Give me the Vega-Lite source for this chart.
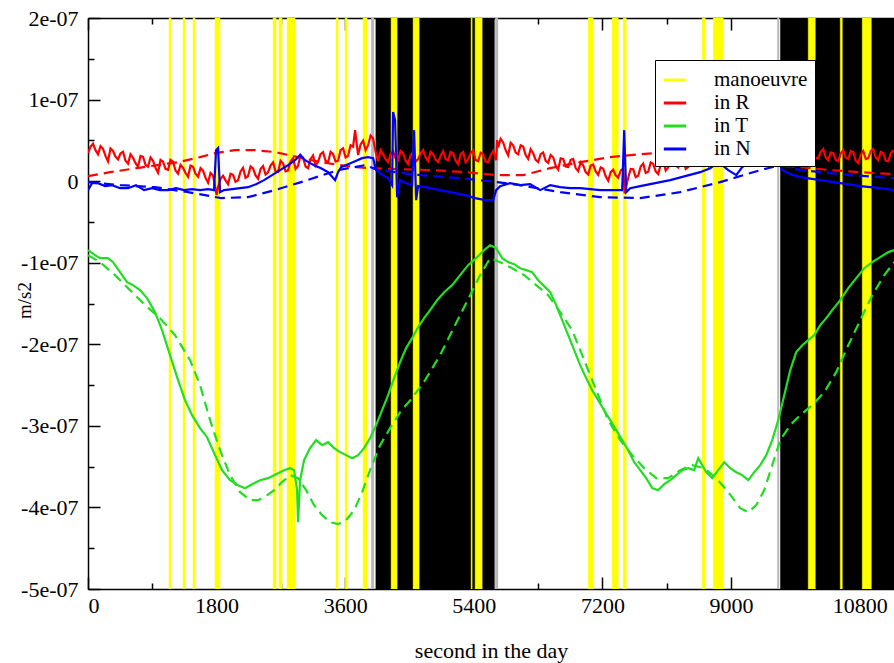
{
"$schema":"https://vega.github.io/schema/vega-lite/v6.json",
"width":806,"height":571,
"autosize":{"type":"none"},
"padding":{"left":88,"top":18,"right":0,"bottom":74},
"background":"white",
"config":{"view":{"stroke":null},"font":"Liberation Serif",
"axis":{"grid":false,"domainColor":"black","tickColor":"black","labelColor":"black","titleColor":"black","labelFont":"Liberation Serif","titleFont":"Liberation Serif","labelFontSize":22,"titleFontSize":22,"titleFontWeight":"normal","domainWidth":1.5,"tickWidth":1.5},
"legend":{"orient":"none","legendX":567,"legendY":42,"fillColor":"white","strokeColor":"black","strokeWidth":1,"padding":7,"symbolType":"stroke","symbolSize":500,"symbolStrokeWidth":3,"labelFont":"Liberation Serif","labelFontSize":21,"labelColor":"black","labelOffset":26,"rowPadding":0,"labelLimit":300}},
"datasets":{
"eclipse":[{"start":4025,"end":5691},{"start":9688,"end":11280}],
"penumbra":[{"start":3962,"end":4004},{"start":5698,"end":5740},{"start":9646,"end":9674}],
"man":[{"start":1134,"end":1162},{"start":1330,"end":1358},{"start":1470,"end":1498},{"start":1778,"end":1848},{"start":2590,"end":2632},{"start":2674,"end":2716},{"start":2786,"end":2898},{"start":3472,"end":3500},{"start":3598,"end":3626},{"start":3850,"end":3906},{"start":4242,"end":4326},{"start":4550,"end":4634},{"start":5362,"end":5376},{"start":5418,"end":5516},{"start":7000,"end":7070},{"start":7336,"end":7420},{"start":7490,"end":7532},{"start":8596,"end":8638},{"start":8750,"end":8890},{"start":10080,"end":10178},{"start":10528,"end":10556},{"start":10836,"end":10962}],
"model":[
{"c":"in R","t":0,"v":0.061e-7},{"c":"in R","t":308,"v":0.110e-7},{"c":"in R","t":588,"v":0.147e-7},{"c":"in R","t":868,"v":0.184e-7},{"c":"in R","t":1260,"v":0.233e-7},{"c":"in R","t":1568,"v":0.294e-7},{"c":"in R","t":1778,"v":0.343e-7},{"c":"in R","t":2058,"v":0.380e-7},{"c":"in R","t":2338,"v":0.380e-7},{"c":"in R","t":2618,"v":0.356e-7},{"c":"in R","t":2940,"v":0.294e-7},{"c":"in R","t":3262,"v":0.233e-7},{"c":"in R","t":3528,"v":0.196e-7},{"c":"in R","t":3738,"v":0.172e-7},{"c":"in R","t":3976,"v":0.159e-7},{"c":"in R","t":4368,"v":0.147e-7},{"c":"in R","t":4830,"v":0.135e-7},{"c":"in R","t":5278,"v":0.110e-7},{"c":"in R","t":5726,"v":0.074e-7},{"c":"in R","t":6090,"v":0.074e-7},{"c":"in R","t":6468,"v":0.159e-7},{"c":"in R","t":6888,"v":0.233e-7},{"c":"in R","t":7308,"v":0.294e-7},{"c":"in R","t":7728,"v":0.331e-7},{"c":"in R","t":8148,"v":0.356e-7},{"c":"in R","t":8568,"v":0.356e-7},{"c":"in R","t":8988,"v":0.306e-7},{"c":"in R","t":9408,"v":0.233e-7},{"c":"in R","t":9828,"v":0.184e-7},{"c":"in R","t":10388,"v":0.135e-7},{"c":"in R","t":10808,"v":0.110e-7},{"c":"in R","t":11284,"v":0.086e-7},
{"c":"in T","t":0,"v":-0.907e-7},{"c":"in T","t":168,"v":-0.993e-7},{"c":"in T","t":378,"v":-1.152e-7},{"c":"in T","t":588,"v":-1.336e-7},{"c":"in T","t":798,"v":-1.520e-7},{"c":"in T","t":1008,"v":-1.680e-7},{"c":"in T","t":1218,"v":-1.888e-7},{"c":"in T","t":1428,"v":-2.195e-7},{"c":"in T","t":1568,"v":-2.501e-7},{"c":"in T","t":1708,"v":-2.930e-7},{"c":"in T","t":1848,"v":-3.298e-7},{"c":"in T","t":1988,"v":-3.604e-7},{"c":"in T","t":2128,"v":-3.813e-7},{"c":"in T","t":2268,"v":-3.911e-7},{"c":"in T","t":2380,"v":-3.911e-7},{"c":"in T","t":2492,"v":-3.862e-7},{"c":"in T","t":2604,"v":-3.788e-7},{"c":"in T","t":2716,"v":-3.690e-7},{"c":"in T","t":2828,"v":-3.604e-7},{"c":"in T","t":2940,"v":-3.641e-7},{"c":"in T","t":3052,"v":-3.788e-7},{"c":"in T","t":3164,"v":-3.972e-7},{"c":"in T","t":3276,"v":-4.095e-7},{"c":"in T","t":3388,"v":-4.181e-7},{"c":"in T","t":3500,"v":-4.205e-7},{"c":"in T","t":3612,"v":-4.156e-7},{"c":"in T","t":3724,"v":-4.034e-7},{"c":"in T","t":3836,"v":-3.813e-7},{"c":"in T","t":3948,"v":-3.543e-7},{"c":"in T","t":4088,"v":-3.237e-7},{"c":"in T","t":4228,"v":-3.028e-7},{"c":"in T","t":4368,"v":-2.832e-7},{"c":"in T","t":4536,"v":-2.660e-7},{"c":"in T","t":4718,"v":-2.440e-7},{"c":"in T","t":4928,"v":-2.133e-7},{"c":"in T","t":5138,"v":-1.765e-7},{"c":"in T","t":5348,"v":-1.398e-7},{"c":"in T","t":5488,"v":-1.152e-7},{"c":"in T","t":5628,"v":-0.944e-7},{"c":"in T","t":5768,"v":-0.993e-7},{"c":"in T","t":5936,"v":-1.067e-7},{"c":"in T","t":6104,"v":-1.152e-7},{"c":"in T","t":6272,"v":-1.275e-7},{"c":"in T","t":6440,"v":-1.398e-7},{"c":"in T","t":6608,"v":-1.606e-7},{"c":"in T","t":6776,"v":-1.827e-7},{"c":"in T","t":6944,"v":-2.195e-7},{"c":"in T","t":7112,"v":-2.562e-7},{"c":"in T","t":7280,"v":-2.930e-7},{"c":"in T","t":7448,"v":-3.175e-7},{"c":"in T","t":7616,"v":-3.359e-7},{"c":"in T","t":7784,"v":-3.519e-7},{"c":"in T","t":7952,"v":-3.641e-7},{"c":"in T","t":8120,"v":-3.641e-7},{"c":"in T","t":8288,"v":-3.543e-7},{"c":"in T","t":8456,"v":-3.482e-7},{"c":"in T","t":8624,"v":-3.519e-7},{"c":"in T","t":8792,"v":-3.641e-7},{"c":"in T","t":8960,"v":-3.813e-7},{"c":"in T","t":9128,"v":-4.009e-7},{"c":"in T","t":9240,"v":-4.058e-7},{"c":"in T","t":9352,"v":-3.972e-7},{"c":"in T","t":9464,"v":-3.788e-7},{"c":"in T","t":9576,"v":-3.482e-7},{"c":"in T","t":9688,"v":-3.175e-7},{"c":"in T","t":9828,"v":-2.991e-7},{"c":"in T","t":9968,"v":-2.869e-7},{"c":"in T","t":10136,"v":-2.746e-7},{"c":"in T","t":10304,"v":-2.587e-7},{"c":"in T","t":10472,"v":-2.342e-7},{"c":"in T","t":10640,"v":-2.011e-7},{"c":"in T","t":10808,"v":-1.704e-7},{"c":"in T","t":10976,"v":-1.398e-7},{"c":"in T","t":11144,"v":-1.152e-7},{"c":"in T","t":11284,"v":-0.993e-7},
{"c":"in N","t":0,"v":-0.012e-7},{"c":"in N","t":448,"v":-0.049e-7},{"c":"in N","t":938,"v":-0.074e-7},{"c":"in N","t":1400,"v":-0.135e-7},{"c":"in N","t":1862,"v":-0.208e-7},{"c":"in N","t":2240,"v":-0.196e-7},{"c":"in N","t":2618,"v":-0.110e-7},{"c":"in N","t":2982,"v":-0.012e-7},{"c":"in N","t":3500,"v":0.135e-7},{"c":"in N","t":3878,"v":0.196e-7},{"c":"in N","t":4060,"v":0.135e-7},{"c":"in N","t":4648,"v":0.074e-7},{"c":"in N","t":5208,"v":0.037e-7},{"c":"in N","t":5726,"v":-0.012e-7},{"c":"in N","t":6048,"v":-0.049e-7},{"c":"in N","t":6608,"v":-0.135e-7},{"c":"in N","t":7168,"v":-0.196e-7},{"c":"in N","t":7728,"v":-0.208e-7},{"c":"in N","t":8288,"v":-0.135e-7},{"c":"in N","t":8848,"v":-0.012e-7},{"c":"in N","t":9408,"v":0.135e-7},{"c":"in N","t":9688,"v":0.196e-7},{"c":"in N","t":9968,"v":0.135e-7},{"c":"in N","t":10668,"v":0.074e-7},{"c":"in N","t":11284,"v":0.037e-7}
],
"meas":[
{"c":"in R","t":0,"v":0.343e-7},{"c":"in R","t":35,"v":0.420e-7},{"c":"in R","t":70,"v":0.459e-7},{"c":"in R","t":105,"v":0.380e-7},{"c":"in R","t":140,"v":0.330e-7},{"c":"in R","t":175,"v":0.430e-7},{"c":"in R","t":210,"v":0.396e-7},{"c":"in R","t":245,"v":0.310e-7},{"c":"in R","t":280,"v":0.242e-7},{"c":"in R","t":315,"v":0.400e-7},{"c":"in R","t":350,"v":0.370e-7},{"c":"in R","t":385,"v":0.300e-7},{"c":"in R","t":420,"v":0.265e-7},{"c":"in R","t":455,"v":0.340e-7},{"c":"in R","t":490,"v":0.360e-7},{"c":"in R","t":525,"v":0.250e-7},{"c":"in R","t":560,"v":0.213e-7},{"c":"in R","t":595,"v":0.330e-7},{"c":"in R","t":630,"v":0.287e-7},{"c":"in R","t":665,"v":0.220e-7},{"c":"in R","t":700,"v":0.177e-7},{"c":"in R","t":735,"v":0.310e-7},{"c":"in R","t":770,"v":0.299e-7},{"c":"in R","t":805,"v":0.200e-7},{"c":"in R","t":840,"v":0.177e-7},{"c":"in R","t":875,"v":0.290e-7},{"c":"in R","t":910,"v":0.250e-7},{"c":"in R","t":945,"v":0.160e-7},{"c":"in R","t":980,"v":0.103e-7},{"c":"in R","t":1015,"v":0.260e-7},{"c":"in R","t":1050,"v":0.238e-7},{"c":"in R","t":1085,"v":0.150e-7},{"c":"in R","t":1120,"v":0.140e-7},{"c":"in R","t":1155,"v":0.260e-7},{"c":"in R","t":1190,"v":0.238e-7},{"c":"in R","t":1225,"v":0.130e-7},{"c":"in R","t":1260,"v":0.091e-7},{"c":"in R","t":1295,"v":0.200e-7},{"c":"in R","t":1330,"v":0.164e-7},{"c":"in R","t":1365,"v":0.100e-7},{"c":"in R","t":1400,"v":0.054e-7},{"c":"in R","t":1435,"v":0.190e-7},{"c":"in R","t":1470,"v":0.177e-7},{"c":"in R","t":1505,"v":0.090e-7},{"c":"in R","t":1540,"v":0.054e-7},{"c":"in R","t":1575,"v":0.160e-7},{"c":"in R","t":1610,"v":0.128e-7},{"c":"in R","t":1645,"v":0.040e-7},{"c":"in R","t":1680,"v":-0.020e-7},{"c":"in R","t":1715,"v":0.100e-7},{"c":"in R","t":1750,"v":0.069e-7},{"c":"in R","t":1800,"v":-0.170e-7},{"c":"in R","t":1820,"v":-0.074e-7},{"c":"in R","t":1855,"v":0.030e-7},{"c":"in R","t":1890,"v":0.067e-7},{"c":"in R","t":1925,"v":0.010e-7},{"c":"in R","t":1960,"v":-0.037e-7},{"c":"in R","t":1995,"v":0.090e-7},{"c":"in R","t":2030,"v":0.078e-7},{"c":"in R","t":2065,"v":-0.010e-7},{"c":"in R","t":2100,"v":0.009e-7},{"c":"in R","t":2135,"v":0.120e-7},{"c":"in R","t":2170,"v":0.164e-7},{"c":"in R","t":2205,"v":0.040e-7},{"c":"in R","t":2240,"v":0.063e-7},{"c":"in R","t":2275,"v":0.180e-7},{"c":"in R","t":2310,"v":0.156e-7},{"c":"in R","t":2345,"v":0.070e-7},{"c":"in R","t":2380,"v":0.029e-7},{"c":"in R","t":2415,"v":0.150e-7},{"c":"in R","t":2450,"v":0.185e-7},{"c":"in R","t":2485,"v":0.080e-7},{"c":"in R","t":2520,"v":0.107e-7},{"c":"in R","t":2555,"v":0.190e-7},{"c":"in R","t":2590,"v":0.230e-7},{"c":"in R","t":2625,"v":0.120e-7},{"c":"in R","t":2660,"v":0.112e-7},{"c":"in R","t":2695,"v":0.250e-7},{"c":"in R","t":2730,"v":0.215e-7},{"c":"in R","t":2765,"v":0.120e-7},{"c":"in R","t":2800,"v":0.132e-7},{"c":"in R","t":2835,"v":0.240e-7},{"c":"in R","t":2870,"v":0.283e-7},{"c":"in R","t":2905,"v":0.150e-7},{"c":"in R","t":2940,"v":0.190e-7},{"c":"in R","t":2975,"v":0.320e-7},{"c":"in R","t":3010,"v":0.287e-7},{"c":"in R","t":3045,"v":0.180e-7},{"c":"in R","t":3080,"v":0.159e-7},{"c":"in R","t":3115,"v":0.270e-7},{"c":"in R","t":3150,"v":0.315e-7},{"c":"in R","t":3185,"v":0.190e-7},{"c":"in R","t":3220,"v":0.238e-7},{"c":"in R","t":3255,"v":0.330e-7},{"c":"in R","t":3290,"v":0.356e-7},{"c":"in R","t":3325,"v":0.250e-7},{"c":"in R","t":3360,"v":0.229e-7},{"c":"in R","t":3395,"v":0.360e-7},{"c":"in R","t":3430,"v":0.330e-7},{"c":"in R","t":3465,"v":0.240e-7},{"c":"in R","t":3500,"v":0.250e-7},{"c":"in R","t":3535,"v":0.380e-7},{"c":"in R","t":3570,"v":0.403e-7},{"c":"in R","t":3605,"v":0.290e-7},{"c":"in R","t":3640,"v":0.311e-7},{"c":"in R","t":3675,"v":0.440e-7},{"c":"in R","t":3710,"v":0.423e-7},{"c":"in R","t":3738,"v":0.625e-7},{"c":"in R","t":3780,"v":0.319e-7},{"c":"in R","t":3815,"v":0.450e-7},{"c":"in R","t":3850,"v":0.497e-7},{"c":"in R","t":3885,"v":0.380e-7},{"c":"in R","t":3920,"v":0.441e-7},{"c":"in R","t":3955,"v":0.560e-7},{"c":"in R","t":3990,"v":0.524e-7},{"c":"in R","t":4025,"v":0.360e-7},{"c":"in R","t":4060,"v":0.245e-7},{"c":"in R","t":4095,"v":0.380e-7},{"c":"in R","t":4130,"v":0.331e-7},{"c":"in R","t":4165,"v":0.270e-7},{"c":"in R","t":4200,"v":0.233e-7},{"c":"in R","t":4235,"v":0.330e-7},{"c":"in R","t":4270,"v":0.368e-7},{"c":"in R","t":4305,"v":0.280e-7},{"c":"in R","t":4340,"v":0.257e-7},{"c":"in R","t":4375,"v":0.370e-7},{"c":"in R","t":4410,"v":0.343e-7},{"c":"in R","t":4445,"v":0.250e-7},{"c":"in R","t":4480,"v":0.208e-7},{"c":"in R","t":4515,"v":0.320e-7},{"c":"in R","t":4550,"v":0.356e-7},{"c":"in R","t":4585,"v":0.240e-7},{"c":"in R","t":4620,"v":0.270e-7},{"c":"in R","t":4655,"v":0.340e-7},{"c":"in R","t":4690,"v":0.380e-7},{"c":"in R","t":4725,"v":0.290e-7},{"c":"in R","t":4760,"v":0.245e-7},{"c":"in R","t":4795,"v":0.360e-7},{"c":"in R","t":4830,"v":0.331e-7},{"c":"in R","t":4865,"v":0.260e-7},{"c":"in R","t":4900,"v":0.233e-7},{"c":"in R","t":4935,"v":0.310e-7},{"c":"in R","t":4970,"v":0.368e-7},{"c":"in R","t":5005,"v":0.270e-7},{"c":"in R","t":5040,"v":0.257e-7},{"c":"in R","t":5075,"v":0.360e-7},{"c":"in R","t":5110,"v":0.343e-7},{"c":"in R","t":5145,"v":0.250e-7},{"c":"in R","t":5180,"v":0.208e-7},{"c":"in R","t":5215,"v":0.330e-7},{"c":"in R","t":5250,"v":0.356e-7},{"c":"in R","t":5285,"v":0.230e-7},{"c":"in R","t":5320,"v":0.270e-7},{"c":"in R","t":5355,"v":0.340e-7},{"c":"in R","t":5390,"v":0.380e-7},{"c":"in R","t":5425,"v":0.260e-7},{"c":"in R","t":5460,"v":0.245e-7},{"c":"in R","t":5495,"v":0.350e-7},{"c":"in R","t":5530,"v":0.331e-7},{"c":"in R","t":5565,"v":0.240e-7},{"c":"in R","t":5600,"v":0.233e-7},{"c":"in R","t":5635,"v":0.320e-7},{"c":"in R","t":5670,"v":0.368e-7},{"c":"in R","t":5712,"v":0.257e-7},{"c":"in R","t":5726,"v":0.503e-7},{"c":"in R","t":5740,"v":0.413e-7},{"c":"in R","t":5775,"v":0.520e-7},{"c":"in R","t":5810,"v":0.474e-7},{"c":"in R","t":5845,"v":0.380e-7},{"c":"in R","t":5880,"v":0.316e-7},{"c":"in R","t":5915,"v":0.470e-7},{"c":"in R","t":5950,"v":0.439e-7},{"c":"in R","t":5985,"v":0.350e-7},{"c":"in R","t":6020,"v":0.329e-7},{"c":"in R","t":6055,"v":0.440e-7},{"c":"in R","t":6090,"v":0.424e-7},{"c":"in R","t":6125,"v":0.320e-7},{"c":"in R","t":6160,"v":0.273e-7},{"c":"in R","t":6195,"v":0.390e-7},{"c":"in R","t":6230,"v":0.342e-7},{"c":"in R","t":6265,"v":0.260e-7},{"c":"in R","t":6300,"v":0.233e-7},{"c":"in R","t":6335,"v":0.330e-7},{"c":"in R","t":6370,"v":0.352e-7},{"c":"in R","t":6405,"v":0.250e-7},{"c":"in R","t":6440,"v":0.224e-7},{"c":"in R","t":6475,"v":0.320e-7},{"c":"in R","t":6510,"v":0.293e-7},{"c":"in R","t":6545,"v":0.190e-7},{"c":"in R","t":6580,"v":0.141e-7},{"c":"in R","t":6615,"v":0.280e-7},{"c":"in R","t":6650,"v":0.273e-7},{"c":"in R","t":6685,"v":0.180e-7},{"c":"in R","t":6720,"v":0.174e-7},{"c":"in R","t":6755,"v":0.260e-7},{"c":"in R","t":6790,"v":0.271e-7},{"c":"in R","t":6825,"v":0.160e-7},{"c":"in R","t":6860,"v":0.123e-7},{"c":"in R","t":6895,"v":0.230e-7},{"c":"in R","t":6930,"v":0.194e-7},{"c":"in R","t":6965,"v":0.110e-7},{"c":"in R","t":7000,"v":0.082e-7},{"c":"in R","t":7035,"v":0.190e-7},{"c":"in R","t":7070,"v":0.204e-7},{"c":"in R","t":7105,"v":0.120e-7},{"c":"in R","t":7140,"v":0.078e-7},{"c":"in R","t":7175,"v":0.170e-7},{"c":"in R","t":7210,"v":0.152e-7},{"c":"in R","t":7245,"v":0.060e-7},{"c":"in R","t":7280,"v":0.005e-7},{"c":"in R","t":7315,"v":0.110e-7},{"c":"in R","t":7350,"v":0.140e-7},{"c":"in R","t":7385,"v":0.070e-7},{"c":"in R","t":7420,"v":0.042e-7},{"c":"in R","t":7455,"v":0.130e-7},{"c":"in R","t":7490,"v":0.158e-7},{"c":"in R","t":7510,"v":-0.150e-7},{"c":"in R","t":7560,"v":0.042e-7},{"c":"in R","t":7595,"v":0.150e-7},{"c":"in R","t":7630,"v":0.146e-7},{"c":"in R","t":7665,"v":0.050e-7},{"c":"in R","t":7700,"v":0.066e-7},{"c":"in R","t":7735,"v":0.180e-7},{"c":"in R","t":7770,"v":0.215e-7},{"c":"in R","t":7805,"v":0.100e-7},{"c":"in R","t":7840,"v":0.115e-7},{"c":"in R","t":7875,"v":0.230e-7},{"c":"in R","t":7910,"v":0.211e-7},{"c":"in R","t":7945,"v":0.120e-7},{"c":"in R","t":7980,"v":0.087e-7},{"c":"in R","t":8015,"v":0.200e-7},{"c":"in R","t":8050,"v":0.245e-7},{"c":"in R","t":8085,"v":0.130e-7},{"c":"in R","t":8120,"v":0.170e-7},{"c":"in R","t":8155,"v":0.280e-7},{"c":"in R","t":8190,"v":0.291e-7},{"c":"in R","t":8225,"v":0.190e-7},{"c":"in R","t":8260,"v":0.167e-7},{"c":"in R","t":8295,"v":0.250e-7},{"c":"in R","t":8330,"v":0.262e-7},{"c":"in R","t":8365,"v":0.150e-7},{"c":"in R","t":8400,"v":0.173e-7},{"c":"in R","t":8435,"v":0.290e-7},{"c":"in R","t":8470,"v":0.318e-7},{"c":"in R","t":8505,"v":0.200e-7},{"c":"in R","t":8540,"v":0.216e-7},{"c":"in R","t":8575,"v":0.330e-7},{"c":"in R","t":8610,"v":0.311e-7},{"c":"in R","t":8645,"v":0.220e-7},{"c":"in R","t":8680,"v":0.185e-7},{"c":"in R","t":8715,"v":0.300e-7},{"c":"in R","t":8750,"v":0.342e-7},{"c":"in R","t":8785,"v":0.240e-7},{"c":"in R","t":8820,"v":0.265e-7},{"c":"in R","t":8855,"v":0.360e-7},{"c":"in R","t":8890,"v":0.385e-7},{"c":"in R","t":8925,"v":0.280e-7},{"c":"in R","t":8960,"v":0.257e-7},{"c":"in R","t":8995,"v":0.370e-7},{"c":"in R","t":9030,"v":0.351e-7},{"c":"in R","t":9065,"v":0.240e-7},{"c":"in R","t":9100,"v":0.260e-7},{"c":"in R","t":9135,"v":0.380e-7},{"c":"in R","t":9170,"v":0.403e-7},{"c":"in R","t":9205,"v":0.290e-7},{"c":"in R","t":9240,"v":0.300e-7},{"c":"in R","t":9275,"v":0.410e-7},{"c":"in R","t":9310,"v":0.394e-7},{"c":"in R","t":9345,"v":0.290e-7},{"c":"in R","t":9380,"v":0.266e-7},{"c":"in R","t":9415,"v":0.380e-7},{"c":"in R","t":9450,"v":0.417e-7},{"c":"in R","t":9485,"v":0.300e-7},{"c":"in R","t":9520,"v":0.331e-7},{"c":"in R","t":9555,"v":0.420e-7},{"c":"in R","t":9590,"v":0.441e-7},{"c":"in R","t":9625,"v":0.320e-7},{"c":"in R","t":9660,"v":0.306e-7},{"c":"in R","t":9695,"v":0.410e-7},{"c":"in R","t":9730,"v":0.385e-7},{"c":"in R","t":9765,"v":0.290e-7},{"c":"in R","t":9800,"v":0.275e-7},{"c":"in R","t":9835,"v":0.370e-7},{"c":"in R","t":9870,"v":0.397e-7},{"c":"in R","t":9905,"v":0.300e-7},{"c":"in R","t":9940,"v":0.275e-7},{"c":"in R","t":9975,"v":0.380e-7},{"c":"in R","t":10010,"v":0.356e-7},{"c":"in R","t":10045,"v":0.260e-7},{"c":"in R","t":10080,"v":0.221e-7},{"c":"in R","t":10115,"v":0.330e-7},{"c":"in R","t":10150,"v":0.368e-7},{"c":"in R","t":10185,"v":0.280e-7},{"c":"in R","t":10220,"v":0.282e-7},{"c":"in R","t":10255,"v":0.360e-7},{"c":"in R","t":10290,"v":0.392e-7},{"c":"in R","t":10325,"v":0.290e-7},{"c":"in R","t":10360,"v":0.257e-7},{"c":"in R","t":10395,"v":0.350e-7},{"c":"in R","t":10430,"v":0.343e-7},{"c":"in R","t":10465,"v":0.260e-7},{"c":"in R","t":10500,"v":0.245e-7},{"c":"in R","t":10535,"v":0.340e-7},{"c":"in R","t":10570,"v":0.380e-7},{"c":"in R","t":10605,"v":0.290e-7},{"c":"in R","t":10640,"v":0.270e-7},{"c":"in R","t":10675,"v":0.370e-7},{"c":"in R","t":10710,"v":0.356e-7},{"c":"in R","t":10745,"v":0.250e-7},{"c":"in R","t":10780,"v":0.221e-7},{"c":"in R","t":10815,"v":0.330e-7},{"c":"in R","t":10850,"v":0.368e-7},{"c":"in R","t":10885,"v":0.270e-7},{"c":"in R","t":10920,"v":0.282e-7},{"c":"in R","t":10955,"v":0.370e-7},{"c":"in R","t":10990,"v":0.392e-7},{"c":"in R","t":11025,"v":0.290e-7},{"c":"in R","t":11060,"v":0.257e-7},{"c":"in R","t":11095,"v":0.360e-7},{"c":"in R","t":11130,"v":0.343e-7},{"c":"in R","t":11165,"v":0.250e-7},{"c":"in R","t":11200,"v":0.245e-7},{"c":"in R","t":11235,"v":0.340e-7},{"c":"in R","t":11270,"v":0.380e-7},
{"c":"in T","t":0,"v":-0.846e-7},{"c":"in T","t":98,"v":-0.907e-7},{"c":"in T","t":168,"v":-0.944e-7},{"c":"in T","t":280,"v":-0.944e-7},{"c":"in T","t":350,"v":-0.993e-7},{"c":"in T","t":448,"v":-1.116e-7},{"c":"in T","t":546,"v":-1.238e-7},{"c":"in T","t":630,"v":-1.275e-7},{"c":"in T","t":728,"v":-1.336e-7},{"c":"in T","t":826,"v":-1.434e-7},{"c":"in T","t":938,"v":-1.606e-7},{"c":"in T","t":1036,"v":-1.827e-7},{"c":"in T","t":1148,"v":-2.133e-7},{"c":"in T","t":1260,"v":-2.440e-7},{"c":"in T","t":1358,"v":-2.685e-7},{"c":"in T","t":1456,"v":-2.869e-7},{"c":"in T","t":1568,"v":-3.028e-7},{"c":"in T","t":1666,"v":-3.139e-7},{"c":"in T","t":1778,"v":-3.359e-7},{"c":"in T","t":1876,"v":-3.543e-7},{"c":"in T","t":1988,"v":-3.666e-7},{"c":"in T","t":2100,"v":-3.727e-7},{"c":"in T","t":2198,"v":-3.764e-7},{"c":"in T","t":2296,"v":-3.715e-7},{"c":"in T","t":2408,"v":-3.666e-7},{"c":"in T","t":2520,"v":-3.641e-7},{"c":"in T","t":2632,"v":-3.592e-7},{"c":"in T","t":2744,"v":-3.543e-7},{"c":"in T","t":2828,"v":-3.519e-7},{"c":"in T","t":2884,"v":-3.543e-7},{"c":"in T","t":2926,"v":-3.788e-7},{"c":"in T","t":2940,"v":-4.181e-7},{"c":"in T","t":2968,"v":-3.666e-7},{"c":"in T","t":3024,"v":-3.421e-7},{"c":"in T","t":3108,"v":-3.273e-7},{"c":"in T","t":3192,"v":-3.175e-7},{"c":"in T","t":3276,"v":-3.237e-7},{"c":"in T","t":3360,"v":-3.200e-7},{"c":"in T","t":3444,"v":-3.273e-7},{"c":"in T","t":3528,"v":-3.322e-7},{"c":"in T","t":3612,"v":-3.359e-7},{"c":"in T","t":3696,"v":-3.396e-7},{"c":"in T","t":3780,"v":-3.359e-7},{"c":"in T","t":3864,"v":-3.273e-7},{"c":"in T","t":3948,"v":-3.151e-7},{"c":"in T","t":4032,"v":-2.991e-7},{"c":"in T","t":4116,"v":-2.808e-7},{"c":"in T","t":4200,"v":-2.624e-7},{"c":"in T","t":4284,"v":-2.415e-7},{"c":"in T","t":4368,"v":-2.219e-7},{"c":"in T","t":4452,"v":-2.047e-7},{"c":"in T","t":4536,"v":-1.925e-7},{"c":"in T","t":4620,"v":-1.790e-7},{"c":"in T","t":4704,"v":-1.680e-7},{"c":"in T","t":4788,"v":-1.582e-7},{"c":"in T","t":4886,"v":-1.459e-7},{"c":"in T","t":4984,"v":-1.361e-7},{"c":"in T","t":5096,"v":-1.275e-7},{"c":"in T","t":5208,"v":-1.152e-7},{"c":"in T","t":5320,"v":-1.030e-7},{"c":"in T","t":5432,"v":-0.944e-7},{"c":"in T","t":5544,"v":-0.846e-7},{"c":"in T","t":5628,"v":-0.785e-7},{"c":"in T","t":5712,"v":-0.821e-7},{"c":"in T","t":5796,"v":-0.944e-7},{"c":"in T","t":5880,"v":-0.993e-7},{"c":"in T","t":5964,"v":-1.018e-7},{"c":"in T","t":6048,"v":-1.067e-7},{"c":"in T","t":6132,"v":-1.091e-7},{"c":"in T","t":6216,"v":-1.116e-7},{"c":"in T","t":6300,"v":-1.214e-7},{"c":"in T","t":6384,"v":-1.287e-7},{"c":"in T","t":6468,"v":-1.361e-7},{"c":"in T","t":6552,"v":-1.520e-7},{"c":"in T","t":6636,"v":-1.704e-7},{"c":"in T","t":6720,"v":-1.888e-7},{"c":"in T","t":6804,"v":-2.072e-7},{"c":"in T","t":6888,"v":-2.256e-7},{"c":"in T","t":6972,"v":-2.415e-7},{"c":"in T","t":7056,"v":-2.562e-7},{"c":"in T","t":7140,"v":-2.685e-7},{"c":"in T","t":7224,"v":-2.808e-7},{"c":"in T","t":7308,"v":-2.930e-7},{"c":"in T","t":7392,"v":-3.053e-7},{"c":"in T","t":7476,"v":-3.175e-7},{"c":"in T","t":7560,"v":-3.298e-7},{"c":"in T","t":7644,"v":-3.445e-7},{"c":"in T","t":7728,"v":-3.543e-7},{"c":"in T","t":7812,"v":-3.641e-7},{"c":"in T","t":7896,"v":-3.764e-7},{"c":"in T","t":7980,"v":-3.788e-7},{"c":"in T","t":8064,"v":-3.715e-7},{"c":"in T","t":8148,"v":-3.666e-7},{"c":"in T","t":8232,"v":-3.604e-7},{"c":"in T","t":8316,"v":-3.543e-7},{"c":"in T","t":8400,"v":-3.519e-7},{"c":"in T","t":8484,"v":-3.543e-7},{"c":"in T","t":8540,"v":-3.396e-7},{"c":"in T","t":8596,"v":-3.482e-7},{"c":"in T","t":8652,"v":-3.568e-7},{"c":"in T","t":8736,"v":-3.641e-7},{"c":"in T","t":8820,"v":-3.543e-7},{"c":"in T","t":8904,"v":-3.445e-7},{"c":"in T","t":8988,"v":-3.519e-7},{"c":"in T","t":9072,"v":-3.568e-7},{"c":"in T","t":9156,"v":-3.604e-7},{"c":"in T","t":9240,"v":-3.666e-7},{"c":"in T","t":9324,"v":-3.568e-7},{"c":"in T","t":9408,"v":-3.482e-7},{"c":"in T","t":9492,"v":-3.359e-7},{"c":"in T","t":9576,"v":-3.175e-7},{"c":"in T","t":9660,"v":-2.930e-7},{"c":"in T","t":9744,"v":-2.624e-7},{"c":"in T","t":9828,"v":-2.317e-7},{"c":"in T","t":9912,"v":-2.096e-7},{"c":"in T","t":9996,"v":-2.011e-7},{"c":"in T","t":10080,"v":-1.949e-7},{"c":"in T","t":10164,"v":-1.888e-7},{"c":"in T","t":10248,"v":-1.765e-7},{"c":"in T","t":10332,"v":-1.680e-7},{"c":"in T","t":10416,"v":-1.582e-7},{"c":"in T","t":10528,"v":-1.459e-7},{"c":"in T","t":10640,"v":-1.312e-7},{"c":"in T","t":10752,"v":-1.189e-7},{"c":"in T","t":10864,"v":-1.067e-7},{"c":"in T","t":10976,"v":-0.993e-7},{"c":"in T","t":11088,"v":-0.932e-7},{"c":"in T","t":11200,"v":-0.870e-7},{"c":"in T","t":11284,"v":-0.846e-7},
{"c":"in N","t":0,"v":-0.110e-7},{"c":"in N","t":56,"v":-0.025e-7},{"c":"in N","t":140,"v":-0.025e-7},{"c":"in N","t":238,"v":-0.061e-7},{"c":"in N","t":336,"v":-0.049e-7},{"c":"in N","t":448,"v":-0.086e-7},{"c":"in N","t":560,"v":-0.086e-7},{"c":"in N","t":672,"v":-0.049e-7},{"c":"in N","t":784,"v":-0.110e-7},{"c":"in N","t":896,"v":-0.086e-7},{"c":"in N","t":1008,"v":-0.110e-7},{"c":"in N","t":1120,"v":-0.110e-7},{"c":"in N","t":1232,"v":-0.086e-7},{"c":"in N","t":1344,"v":-0.110e-7},{"c":"in N","t":1456,"v":-0.098e-7},{"c":"in N","t":1568,"v":-0.110e-7},{"c":"in N","t":1680,"v":-0.098e-7},{"c":"in N","t":1764,"v":-0.110e-7},{"c":"in N","t":1792,"v":0.380e-7},{"c":"in N","t":1820,"v":0.405e-7},{"c":"in N","t":1848,"v":-0.135e-7},{"c":"in N","t":1904,"v":-0.110e-7},{"c":"in N","t":2016,"v":-0.098e-7},{"c":"in N","t":2128,"v":-0.086e-7},{"c":"in N","t":2240,"v":-0.074e-7},{"c":"in N","t":2352,"v":-0.037e-7},{"c":"in N","t":2464,"v":0.012e-7},{"c":"in N","t":2576,"v":0.074e-7},{"c":"in N","t":2688,"v":0.135e-7},{"c":"in N","t":2800,"v":0.196e-7},{"c":"in N","t":2898,"v":0.257e-7},{"c":"in N","t":2968,"v":0.319e-7},{"c":"in N","t":3038,"v":0.257e-7},{"c":"in N","t":3108,"v":0.221e-7},{"c":"in N","t":3192,"v":0.184e-7},{"c":"in N","t":3262,"v":0.159e-7},{"c":"in N","t":3360,"v":0.110e-7},{"c":"in N","t":3458,"v":0.012e-7},{"c":"in N","t":3500,"v":0.110e-7},{"c":"in N","t":3542,"v":0.172e-7},{"c":"in N","t":3640,"v":0.208e-7},{"c":"in N","t":3738,"v":0.245e-7},{"c":"in N","t":3836,"v":0.282e-7},{"c":"in N","t":3920,"v":0.294e-7},{"c":"in N","t":3990,"v":0.282e-7},{"c":"in N","t":4032,"v":0.135e-7},{"c":"in N","t":4116,"v":0.074e-7},{"c":"in N","t":4200,"v":0.037e-7},{"c":"in N","t":4256,"v":-0.049e-7},{"c":"in N","t":4270,"v":0.846e-7},{"c":"in N","t":4298,"v":0.748e-7},{"c":"in N","t":4326,"v":-0.196e-7},{"c":"in N","t":4368,"v":0.012e-7},{"c":"in N","t":4452,"v":-0.025e-7},{"c":"in N","t":4536,"v":-0.049e-7},{"c":"in N","t":4564,"v":0.625e-7},{"c":"in N","t":4592,"v":-0.233e-7},{"c":"in N","t":4620,"v":-0.061e-7},{"c":"in N","t":4718,"v":-0.074e-7},{"c":"in N","t":4858,"v":-0.098e-7},{"c":"in N","t":4998,"v":-0.123e-7},{"c":"in N","t":5138,"v":-0.147e-7},{"c":"in N","t":5278,"v":-0.172e-7},{"c":"in N","t":5418,"v":-0.208e-7},{"c":"in N","t":5558,"v":-0.233e-7},{"c":"in N","t":5670,"v":-0.233e-7},{"c":"in N","t":5712,"v":-0.110e-7},{"c":"in N","t":5768,"v":-0.061e-7},{"c":"in N","t":5908,"v":-0.025e-7},{"c":"in N","t":6048,"v":-0.049e-7},{"c":"in N","t":6188,"v":-0.037e-7},{"c":"in N","t":6328,"v":-0.110e-7},{"c":"in N","t":6468,"v":-0.049e-7},{"c":"in N","t":6608,"v":-0.074e-7},{"c":"in N","t":6748,"v":-0.086e-7},{"c":"in N","t":6888,"v":-0.086e-7},{"c":"in N","t":7028,"v":-0.098e-7},{"c":"in N","t":7168,"v":-0.110e-7},{"c":"in N","t":7308,"v":-0.110e-7},{"c":"in N","t":7476,"v":-0.110e-7},{"c":"in N","t":7504,"v":0.625e-7},{"c":"in N","t":7532,"v":-0.135e-7},{"c":"in N","t":7588,"v":-0.086e-7},{"c":"in N","t":7728,"v":-0.061e-7},{"c":"in N","t":7938,"v":-0.025e-7},{"c":"in N","t":8148,"v":0.012e-7},{"c":"in N","t":8358,"v":0.061e-7},{"c":"in N","t":8568,"v":0.110e-7},{"c":"in N","t":8708,"v":0.159e-7},{"c":"in N","t":8820,"v":0.233e-7},{"c":"in N","t":8876,"v":0.196e-7},{"c":"in N","t":8960,"v":0.135e-7},{"c":"in N","t":9072,"v":0.074e-7},{"c":"in N","t":9156,"v":0.172e-7},{"c":"in N","t":9268,"v":0.233e-7},{"c":"in N","t":9408,"v":0.270e-7},{"c":"in N","t":9548,"v":0.282e-7},{"c":"in N","t":9660,"v":0.257e-7},{"c":"in N","t":9716,"v":0.135e-7},{"c":"in N","t":9828,"v":0.086e-7},{"c":"in N","t":9968,"v":0.049e-7},{"c":"in N","t":10248,"v":0.012e-7},{"c":"in N","t":10528,"v":-0.025e-7},{"c":"in N","t":10808,"v":-0.061e-7},{"c":"in N","t":11088,"v":-0.086e-7},{"c":"in N","t":11284,"v":-0.110e-7}
]},
"layer":[
{"data":{"name":"eclipse"},"mark":{"type":"rect","fill":"black","clip":true},
 "encoding":{"x":{"field":"start","type":"quantitative","scale":{"domain":[0,11280],"nice":false,"zero":false},
   "axis":{"orient":"bottom","values":[0,1800,3600,5400,7200,9000,10800],"format":"d","tickSize":-12,"labelPadding":18,"title":"second in the day","titlePadding":24,"domain":true}},
  "x2":{"field":"end"}}},
{"data":{"name":"penumbra"},"mark":{"type":"rect","fill":"#b8b8b8","clip":true},
 "encoding":{"x":{"field":"start","type":"quantitative","scale":{"domain":[0,11280],"nice":false,"zero":false},
   "axis":{"orient":"bottom","values":[900,2700,4500,6300,8100,9900],"tickSize":-6,"labels":false,"domain":false,"title":null}},
  "x2":{"field":"end"}}},
{"data":{"name":"man"},"mark":{"type":"rect","fill":"#ffff00","stroke":"#ffff00","strokeWidth":0.5,"clip":true},
 "encoding":{"x":{"field":"start","type":"quantitative","scale":{"domain":[0,11280],"nice":false,"zero":false},
   "axis":{"orient":"top","values":[0,1800,3600,5400,7200,9000,10800],"tickSize":-12,"labels":false,"domain":true,"title":null}},
  "x2":{"field":"end"}}},
{"data":{"name":"model"},"mark":{"type":"line","strokeDash":[10,6],"clip":true},
 "encoding":{"x":{"field":"t","type":"quantitative","scale":{"domain":[0,11280],"nice":false,"zero":false},
   "axis":{"orient":"top","values":[900,2700,4500,6300,8100,9900],"tickSize":-6,"labels":false,"domain":false,"title":null}},
  "y":{"field":"v","type":"quantitative","scale":{"domain":[-5e-7,2e-7],"nice":false,"zero":false},
   "axis":{"orient":"left","values":[-5e-7,-4e-7,-3e-7,-2e-7,-1e-7,0,1e-7,2e-7],"tickSize":-12,"labelPadding":22,"labelExpr":"round(datum.value*1e7) == 0 ? '0' : round(datum.value*1e7) + 'e-07'","title":"m/s2","titleFontSize":19,"titleX":-64,"titleY":282,"titleBaseline":"middle","domain":true}},
  "color":{"field":"c","type":"nominal","scale":{"domain":["manoeuvre","in R","in T","in N"],"range":["#ffff00","#ff0000","#22dd22","#0000ff"]},"legend":{"title":null}},
  "strokeWidth":{"field":"c","type":"nominal","scale":{"domain":["in R","in T","in N"],"range":[2.2,2.2,2.8]},"legend":null},
  "order":{"field":"t","type":"quantitative"}}},
{"data":{"name":"meas"},"mark":{"type":"line","clip":true},
 "encoding":{"x":{"field":"t","type":"quantitative","scale":{"domain":[0,11280],"nice":false,"zero":false},"axis":null},
  "y":{"field":"v","type":"quantitative","scale":{"domain":[-5e-7,2e-7],"nice":false,"zero":false},
   "axis":{"orient":"left","values":[-4.5e-7,-3.5e-7,-2.5e-7,-1.5e-7,-0.5e-7,0.5e-7,1.5e-7],"tickSize":-6,"labels":false,"domain":false,"title":null}},
  "color":{"field":"c","type":"nominal","scale":{"domain":["manoeuvre","in R","in T","in N"],"range":["#ffff00","#ff0000","#22dd22","#0000ff"]},"legend":{"title":null}},
  "strokeWidth":{"field":"c","type":"nominal","scale":{"domain":["in R","in T","in N"],"range":[2.2,2.2,2.8]},"legend":null},
  "order":{"field":"t","type":"quantitative"}}}
],
"resolve":{"axis":{"x":"independent","y":"independent"}}
}
